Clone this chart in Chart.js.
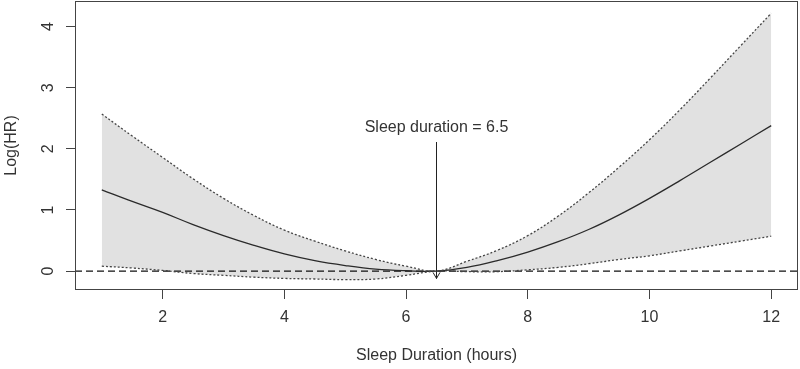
<!DOCTYPE html>
<html>
<head>
<meta charset="utf-8">
<script src="https://cdn.jsdelivr.net/npm/chart.js@4"></script>
<style>
  html, body { margin: 0; padding: 0; background: #fff; }
  #wrap { width: 800px; height: 369px; position: relative; }
</style>
</head>
<body>
<div id="wrap"><canvas id="sleepChart"></canvas></div>
<script>
'use strict';

/* ── Data ────────────────────────────────────────────────────────────────── */

const HOURS     = [1, 1.5, 2, 2.5, 3, 3.5, 4, 4.5, 5, 5.5, 6, 6.5, 7, 7.5, 8, 8.5, 9, 9.5, 10, 10.5, 11, 11.5, 12];
const LOG_HR    = [1.33, 1.14, 0.96, 0.76, 0.58, 0.42, 0.28, 0.17, 0.09, 0.03, 0.005, 0, 0.06, 0.17, 0.31, 0.48, 0.68, 0.92, 1.19, 1.48, 1.78, 2.08, 2.38];
const CI_UPPER  = [2.57, 2.21, 1.86, 1.51, 1.19, 0.91, 0.67, 0.49, 0.33, 0.19, 0.08, 0, 0.16, 0.34, 0.58, 0.90, 1.28, 1.70, 2.15, 2.64, 3.16, 3.69, 4.22];
const CI_LOWER  = [0.08, 0.05, 0.01, -0.04, -0.07, -0.10, -0.12, -0.13, -0.14, -0.13, -0.07, 0, -0.01, -0.01, 0.02, 0.06, 0.12, 0.19, 0.25, 0.33, 0.41, 0.49, 0.57];

const X_TICKS   = [2, 4, 6, 8, 10, 12];
const Y_TICKS   = [0, 1, 2, 3, 4];
const X_RANGE   = [0.56, 12.44];
const Y_RANGE   = [-0.31, 4.42];

const REF_HOURS   = 6.5;
const ARROW_FROM  = 2.11;
const ARROW_TO    = -0.12;
const LABEL_LOGHR = 2.35;
const LABEL_TEXT  = 'Sleep duration = 6.5';

const FONT = '"Liberation Sans", Arial, sans-serif';
const INK  = '#333';

const toPoints = (xs, ys) => xs.map((x, i) => ({ x, y: ys[i] }));

/* ── R-style extras: box, rotated y labels, arrow + annotation ───────────── */

const rDecor = {
    id: 'rDecor',
    afterDraw(chart) {
        const { ctx, chartArea: a, scales: { x, y } } = chart;
        ctx.save();

        // plot box
        ctx.strokeStyle = '#444';
        ctx.lineWidth = 1;
        ctx.strokeRect(a.left + 0.5, a.top + 0.5, a.right - a.left - 1, a.bottom - a.top - 1);

        // y tick labels, parallel to the axis like R's las = 0
        ctx.fillStyle = INK;
        ctx.font = `16px ${FONT}`;
        ctx.textAlign = 'center';
        ctx.textBaseline = 'middle';
        Y_TICKS.forEach(v => {
            ctx.save();
            ctx.translate(a.left - 26, y.getPixelForValue(v));
            ctx.rotate(-Math.PI / 2);
            ctx.fillText(String(v), 0, 0);
            ctx.restore();
        });

        // arrow head
        const px = x.getPixelForValue(REF_HOURS);
        const tip = y.getPixelForValue(ARROW_TO);
        ctx.strokeStyle = '#222';
        ctx.lineWidth = 1;
        ctx.beginPath();
        ctx.moveTo(px - 3.5, tip - 6);
        ctx.lineTo(px, tip);
        ctx.lineTo(px + 3.5, tip - 6);
        ctx.stroke();

        // annotation
        ctx.fillStyle = INK;
        ctx.fillText(LABEL_TEXT, px, y.getPixelForValue(LABEL_LOGHR));

        ctx.restore();
    },
};

/* ── Chart ───────────────────────────────────────────────────────────────── */

function initSleepChart() {
    const ctx = document.getElementById('sleepChart').getContext('2d');

    const curve = { pointRadius: 0, tension: 0.4, fill: false };

    new Chart(ctx, {
        type: 'line',
        data: {
            datasets: [
                {
                    ...curve,
                    label: 'Upper CI',
                    data: toPoints(HOURS, CI_UPPER),
                    borderColor: '#444',
                    borderWidth: 1.3,
                    borderDash: [2, 2],
                    backgroundColor: '#e1e1e1',
                    fill: '+1',
                },
                {
                    ...curve,
                    label: 'Lower CI',
                    data: toPoints(HOURS, CI_LOWER),
                    borderColor: '#444',
                    borderWidth: 1.3,
                    borderDash: [2, 2],
                },
                {
                    ...curve,
                    label: 'Log(HR)',
                    data: toPoints(HOURS, LOG_HR),
                    borderColor: '#2a2a2a',
                    borderWidth: 1.3,
                },
                {
                    label: 'Reference',
                    data: toPoints(X_RANGE, [0, 0]),
                    borderColor: '#111',
                    borderWidth: 1.2,
                    borderDash: [7, 4],
                    fill: false,
                    pointRadius: 0,
                },
                {
                    label: 'Arrow',
                    data: toPoints([REF_HOURS, REF_HOURS], [ARROW_FROM, ARROW_TO]),
                    borderColor: '#222',
                    borderWidth: 1,
                    fill: false,
                    pointRadius: 0,
                },
            ],
        },
        options: {
            responsive: true,
            maintainAspectRatio: false,
            animation: false,
            layout: { padding: { top: 1, right: 2, left: 0, bottom: 0 } },
            plugins: {
                legend: { display: false },
                tooltip: { enabled: false },
                filler: { drawTime: 'beforeDatasetsDraw' },
            },
            scales: {
                x: {
                    type: 'linear',
                    min: X_RANGE[0],
                    max: X_RANGE[1],
                    afterBuildTicks: s => { s.ticks = X_TICKS.map(v => ({ value: v })); },
                    afterFit: s => { s.height = 79; },
                    border: { display: false },
                    grid: { drawOnChartArea: false, drawTicks: true, tickLength: 9, color: '#444' },
                    ticks: { color: INK, font: { family: FONT, size: 16 }, padding: 9, maxRotation: 0 },
                    title: { display: true, text: 'Sleep Duration (hours)', color: INK,
                             font: { family: FONT, size: 16 }, padding: { top: 0, bottom: 4 } },
                },
                y: {
                    min: Y_RANGE[0],
                    max: Y_RANGE[1],
                    afterBuildTicks: s => { s.ticks = Y_TICKS.map(v => ({ value: v })); },
                    afterFit: s => { s.width = 75; },
                    border: { display: false },
                    grid: { drawOnChartArea: false, drawTicks: true, tickLength: 9, color: '#444' },
                    ticks: { display: false },
                    title: { display: true, text: 'Log(HR)', color: INK,
                             font: { family: FONT, size: 16 }, padding: { top: 2, bottom: 0 } },
                },
            },
        },
        plugins: [rDecor],
    });
}

initSleepChart();
</script>
</body>
</html>
